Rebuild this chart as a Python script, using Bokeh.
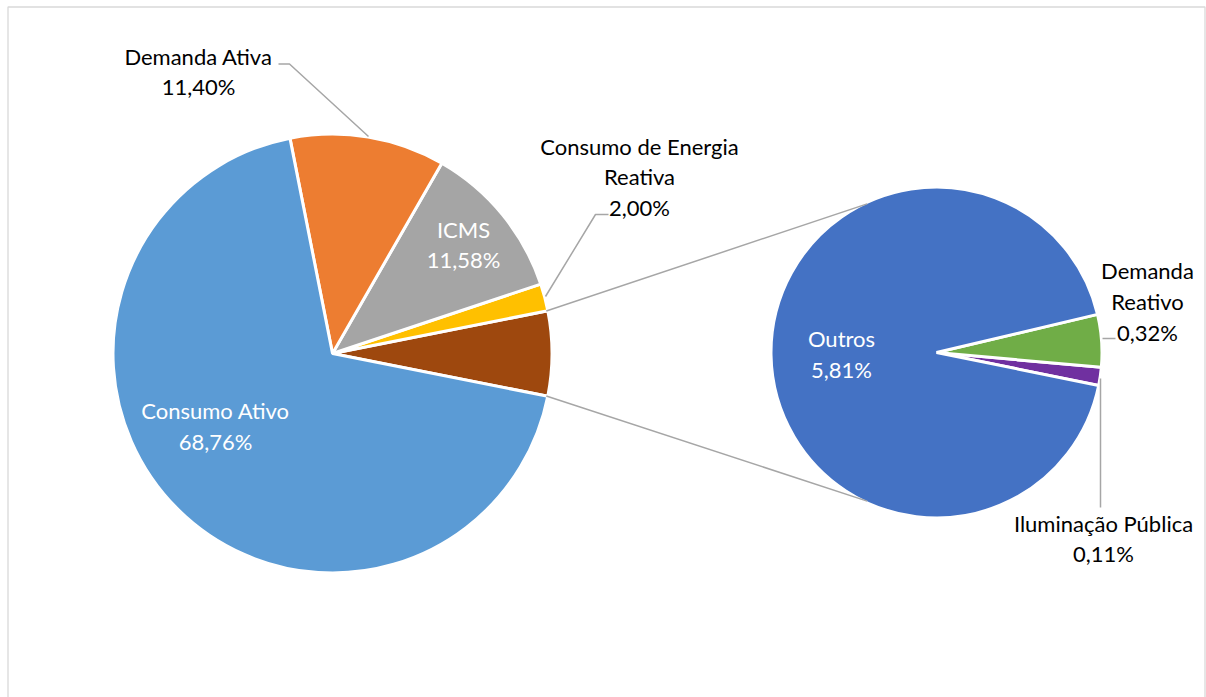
import math

from bokeh.core.properties import value
from bokeh.embed import file_html
from bokeh.models import ColumnDataSource, Range1d
from bokeh.plotting import figure
from bokeh.resources import INLINE

# --- data -------------------------------------------------------------------
main_labels = ["Consumo Ativo", "Demanda Ativa", "ICMS", "Consumo de Energia Reativa"]
main_values = [68.76, 11.40, 11.58, 2.00]
main_colors = ["#5B9BD5", "#ED7D31", "#A5A5A5", "#FFC000"]
other_color = "#9E480E"

sec_labels = ["Outros", "Demanda Reativo", "Iluminação Pública"]
sec_values = [5.81, 0.32, 0.11]
sec_colors = ["#4472C4", "#70AD47", "#7030A0"]

# --- canvas -----------------------------------------------------------------
W, H = 1206, 697
FONT = "Lato"
FONT_SIZE = "22px"
LINE_H = 1.13


def fy(y):
    """Convert a top-down pixel row into the y-up data coordinate."""
    return H - y


def pct(v):
    return f"{v:.2f}".replace(".", ",") + "%"


p = figure(width=W, height=H, x_range=Range1d(0, W), y_range=Range1d(0, H),
           output_backend="svg", toolbar_location=None, min_border=0)
p.axis.visible = False
p.grid.visible = False
p.outline_line_color = None
p.background_fill_color = "white"
p.border_fill_color = "white"

# chart-area frame
p.quad(left=[7.5], right=[1204.5], top=[fy(6.5)], bottom=[-10],
       fill_color=None, line_color="#D9D9D9", line_width=1.3)

# --- main pie ---------------------------------------------------------------
cx, cy, r = 332, fy(353), 219.5
total = sum(main_values) + sum(sec_values)
other_val = sum(sec_values)
other_ang = 2 * math.pi * other_val / total

# the aggregated slice faces the secondary pie, the others follow anticlockwise
order_vals = [other_val] + main_values[::-1]
order_cols = [other_color] + main_colors[::-1]
starts, ends = [], []
a = -other_ang / 2
for v in order_vals:
    starts.append(a)
    a += 2 * math.pi * v / total
    ends.append(a)

p.wedge(x=cx, y=cy, radius=r, start_angle=starts, end_angle=ends,
        fill_color=order_cols, line_color="white", line_width=3,
        direction="anticlock")

# --- secondary pie ----------------------------------------------------------
sx, sy, sr = 936, fy(352), 165.5
sec_total = sum(sec_values)
sec_start = math.radians(-11.5)
s_order_vals = sec_values[::-1]
s_order_cols = sec_colors[::-1]
s_starts, s_ends = [], []
a = sec_start
for v in s_order_vals:
    s_starts.append(a)
    a += 2 * math.pi * v / sec_total
    s_ends.append(a)

p.wedge(x=sx, y=sy, radius=sr, start_angle=s_starts, end_angle=s_ends,
        fill_color=s_order_cols, line_color="white", line_width=3,
        direction="anticlock")

# --- connector lines between the pies ---------------------------------------
r_vis, sr_vis = r - 1.5, sr - 1.5
half = other_ang / 2
conn_ang = math.radians(115)
conn_xs = [
    [cx + r_vis * math.cos(half), sx + sr_vis * math.cos(conn_ang)],
    [cx + r_vis * math.cos(-half), sx + sr_vis * math.cos(-conn_ang)],
]
conn_ys = [
    [cy + r_vis * math.sin(half), sy + sr_vis * math.sin(conn_ang)],
    [cy + r_vis * math.sin(-half), sy + sr_vis * math.sin(-conn_ang)],
]
p.multi_line(xs=conn_xs, ys=conn_ys, line_color="#A6A6A6", line_width=1.5)

# --- leader lines -----------------------------------------------------------
lead_xs = [
    [278, 289, 368],          # Demanda Ativa
    [608, 595, 545],          # Consumo de Energia Reativa
    [1115, 1102],             # Demanda Reativo
    [1100, 1100],             # Iluminação Pública
]
lead_ys = [
    [fy(63.5), fy(63.5), fy(136)],
    [fy(214), fy(214), fy(296)],
    [fy(338), fy(338)],
    [fy(507), fy(378)],
]
p.multi_line(xs=lead_xs, ys=lead_ys, line_color="#A6A6A6", line_width=1.5)

# --- data labels ------------------------------------------------------------
outside = ColumnDataSource(dict(
    x=[198, 639, 1147, 1103],
    y=[fy(71), fy(176.5), fy(301), fy(538)],
    text=[
        f"{main_labels[1]}\n{pct(main_values[1])}",
        f"Consumo de Energia\nReativa\n{pct(main_values[3])}",
        f"Demanda\nReativo\n{pct(sec_values[1])}",
        f"{sec_labels[2]}\n{pct(sec_values[2])}",
    ],
))
p.text(x="x", y="y", text="text", source=outside, text_align="center",
       text_baseline="middle", text_font=value(FONT), text_font_size=FONT_SIZE,
       text_color="#000000", text_line_height=LINE_H)

inside = ColumnDataSource(dict(
    x=[215, 463, 841],
    y=[fy(425.5), fy(244), fy(353.5)],
    text=[
        f"{main_labels[0]}\n{pct(main_values[0])}",
        f"{main_labels[2]}\n{pct(main_values[2])}",
        f"{sec_labels[0]}\n{pct(sec_values[0])}",
    ],
))
p.text(x="x", y="y", text="text", source=inside, text_align="center",
       text_baseline="middle", text_font=value(FONT), text_font_size=FONT_SIZE,
       text_color="#FFFFFF", text_line_height=LINE_H)

open("out.html", "w").write(file_html(p, INLINE))
